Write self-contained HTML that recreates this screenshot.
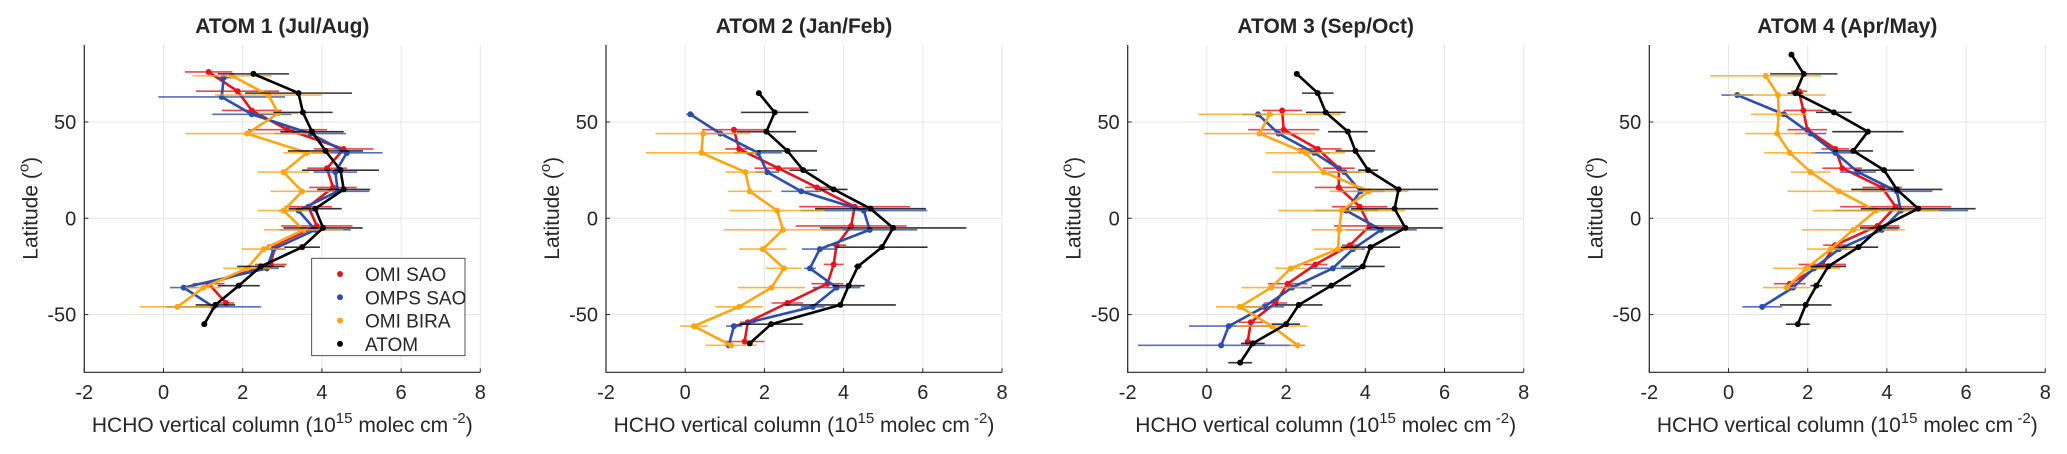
<!DOCTYPE html>
<html><head><meta charset="utf-8"><style>
html,body{margin:0;padding:0;background:#fff}
svg{display:block}
text{font-family:"Liberation Sans",sans-serif;fill:#262626}
</style></head><body>
<svg id="chart" width="2067" height="454" viewBox="0 0 2067 454"></svg>
<script>
const seriesNames = ["OMI SAO","OMPS SAO","OMI BIRA","ATOM"];
const seriesColors = ["#e8141c","#2a4ead","#ffa412","#000000"];
const panelTitles = ["ATOM 1 (Jul/Aug)","ATOM 2 (Jan/Feb)","ATOM 3 (Sep/Oct)","ATOM 4 (Apr/May)"];
const xTicks = [-2,0,2,4,6,8];
const yTicks = [-50,0,50];

// Panel 1
const p1_omi_lat = [76,66,56,46,36,26,16,6,-4,-14,-24,-34,-44];
const p1_omi_val = [1.14,1.87,2.23,3.13,4.55,4.13,4.28,3.66,3.87,2.82,2.71,1.14,1.58];
const p1_omi_err = [0.6,1.05,0.75,1.0,0.75,0.5,0.6,0.6,0.9,0.2,0.4,0.4,0.2];
const p1_omps_lat = [73,63,54,44,34,24,14,4,-6,-16,-26,-36,-46];
const p1_omps_val = [1.52,1.47,2.23,3.71,4.63,4.34,4.4,3.41,3.83,2.78,2.61,0.51,1.26];
const p1_omps_err = [0.2,1.6,1.0,0.9,0.9,0.55,0.8,0.5,0.9,0.3,0.3,0.35,1.2];
const p1_bira_lat = [74,64,54.5,44,34,24,14,4,-6,-16,-26,-36,-46];
const p1_bira_val = [1.73,2.65,2.9,2.11,3.62,3.03,3.5,3.03,3.54,2.53,2.11,1.01,0.35];
const p1_bira_err = [1.0,1.35,0.5,1.55,0.6,0.65,0.8,0.65,1.0,0.55,0.6,0.45,0.95];
const p1_atom_lat = [75,65,55,45,35,25,15,5,-5,-15,-25,-35,-45,-55];
const p1_atom_val = [2.27,3.41,3.52,3.75,4.09,4.47,4.55,3.83,4.03,3.5,2.46,1.9,1.31,1.03];
const p1_atom_err = [0.9,1.35,0.75,0.8,0.95,0.97,0.67,0.67,1.0,0.45,0.6,0.53,0.5,0.05];
// Panel 2
const p2_omi_lat = [46,36,26,16,6,-4,-14,-24,-34,-44,-54,-64];
const p2_omi_val = [1.23,1.36,2.35,3.33,4.28,4.19,3.82,3.75,3.59,2.58,1.58,1.5];
const p2_omi_err = [0.8,0.35,0.6,0.3,1.4,1.4,0.25,0.25,0.4,0.4,0.2,0.5];
const p2_omps_lat = [54,44,34,24,14,4,-6,-16,-26,-36,-46,-56,-66];
const p2_omps_val = [0.13,0.89,1.84,2.07,2.93,4.51,4.66,3.4,3.15,3.82,3.22,1.23,1.1];
const p2_omps_err = [0.1,0.4,0.6,0.3,0.5,1.6,1.2,0.45,0.15,0.6,0.3,0.2,0.1];
const p2_bira_lat = [44,34,24,14,4,-6,-16,-26,-36,-46,-56,-66];
const p2_bira_val = [0.45,0.41,1.52,1.63,2.32,2.47,1.96,2.49,2.18,1.36,0.22,1.16];
const p2_bira_err = [1.2,1.4,0.5,0.55,1.2,1.5,0.6,0.45,0.85,0.6,0.35,0.65];
const p2_atom_lat = [65,55,45,35,25,15,5,-5,-15,-25,-35,-45,-55,-65];
const p2_atom_val = [1.86,2.26,2.05,2.58,2.98,3.75,4.68,5.25,4.97,4.36,4.13,3.92,2.17,1.63];
const p2_atom_err = [0.05,0.85,0.75,0.75,0.35,0.35,1.4,1.85,1.15,0.1,0.4,1.4,0.8,0.05];
// Panel 3
const p3_omi_lat = [56,46,36,26,16,6,-4,-14,-24,-34,-44,-54,-64];
const p3_omi_val = [1.9,1.94,2.8,3.33,3.33,3.86,4.11,3.61,2.74,2.04,1.73,1.11,1.03];
const p3_omi_err = [0.5,0.9,0.6,0.4,0.6,0.7,0.9,0.2,0.3,0.5,0.3,0.3,0.05];
const p3_omps_lat = [54,44,34,24,14,4,-6,-16,-26,-36,-46,-56,-66];
const p3_omps_val = [1.29,1.81,2.71,3.47,3.88,3.52,4.4,3.69,3.18,2.15,1.45,0.55,0.36];
const p3_omps_err = [0.4,0.5,0.4,0.4,0.6,0.8,0.9,0.3,0.6,0.5,0.5,1.0,2.1];
const p3_bira_lat = [54,44,34,24,14,4,-6,-16,-26,-36,-46,-56,-66];
const p3_bira_val = [1.58,1.33,2.49,2.95,4.09,3.4,3.34,3.31,2.12,1.62,0.83,1.64,2.29];
const p3_bira_err = [1.8,1.4,1.0,1.3,1.0,1.6,0.7,0.6,0.4,0.75,0.6,0.9,0.2];
const p3_atom_lat = [75,65,55,45,35,25,15,5,-5,-15,-25,-35,-45,-55,-65,-75];
const p3_atom_val = [2.27,2.8,3.0,3.56,3.75,4.07,4.84,4.74,5.01,4.13,3.94,3.14,2.32,2.0,1.16,0.84];
const p3_atom_err = [0.05,0.4,0.5,0.5,0.5,0.25,1.0,1.1,0.95,0.75,0.55,0.5,0.6,0.35,0.3,0.3];
// Panel 4
const p4_omi_lat = [66,56,46,36,26,16,6,-4,-14,-24,-34];
const p4_omi_val = [1.78,1.89,1.99,2.7,2.87,3.88,4.22,3.76,2.69,2.37,1.55];
const p4_omi_err = [0.2,0.5,0.5,0.35,0.5,0.5,1.4,0.55,0.3,0.6,0.4];
const p4_omps_lat = [64,54,44,34,24,14,4,-6,-16,-26,-36,-46];
const p4_omps_val = [0.22,1.4,2.07,2.7,3.27,4.25,4.35,3.87,2.79,2.16,1.63,0.85];
const p4_omps_err = [0.4,0.1,0.4,0.6,0.45,0.9,1.7,0.4,0.2,0.3,0.1,0.5];
const p4_bira_lat = [74,64,54,44,34,24,14,4,-6,-16,-26,-36];
const p4_bira_val = [0.94,1.25,1.27,1.23,1.55,2.07,2.79,3.72,3.15,2.58,1.97,1.47];
const p4_bira_err = [1.4,1.2,0.7,0.8,0.65,0.5,1.3,1.6,1.3,0.6,0.85,0.6];
const p4_atom_lat = [85,75,65,55,45,35,25,15,5,-5,-15,-25,-35,-45,-55];
const p4_atom_val = [1.59,1.9,1.69,2.66,3.52,3.15,3.93,4.25,4.79,3.82,3.28,2.52,2.22,1.95,1.75];
const p4_atom_err = [0.05,0.85,0.2,0.45,0.9,0.5,0.75,1.15,1.45,0.5,0.5,0.45,0.15,0.65,0.3];

const panels = [
 [[p1_omi_lat,p1_omi_val,p1_omi_err],[p1_omps_lat,p1_omps_val,p1_omps_err],[p1_bira_lat,p1_bira_val,p1_bira_err],[p1_atom_lat,p1_atom_val,p1_atom_err]],
 [[p2_omi_lat,p2_omi_val,p2_omi_err],[p2_omps_lat,p2_omps_val,p2_omps_err],[p2_bira_lat,p2_bira_val,p2_bira_err],[p2_atom_lat,p2_atom_val,p2_atom_err]],
 [[p3_omi_lat,p3_omi_val,p3_omi_err],[p3_omps_lat,p3_omps_val,p3_omps_err],[p3_bira_lat,p3_bira_val,p3_bira_err],[p3_atom_lat,p3_atom_val,p3_atom_err]],
 [[p4_omi_lat,p4_omi_val,p4_omi_err],[p4_omps_lat,p4_omps_val,p4_omps_err],[p4_bira_lat,p4_bira_val,p4_bira_err],[p4_atom_lat,p4_atom_val,p4_atom_err]]
];

const NS="http://www.w3.org/2000/svg";
const svg=document.getElementById('chart');
function mk(tag,attrs,parent){const e=document.createElementNS(NS,tag);for(const k in attrs)e.setAttribute(k,attrs[k]);(parent||svg).appendChild(e);return e;}
const lefts=[84.3,606,1127.7,1649.3];
const PW=396, TOP=45, BOT=372.3, XMIN=-2, XMAX=8, YMIN=-80, YMAX=90;

panels.forEach((pd,pi)=>{
  const L=lefts[pi];
  const xs=v=>L+(v-XMIN)/(XMAX-XMIN)*PW;
  const ys=v=>BOT-(v-YMIN)/(YMAX-YMIN)*(BOT-TOP);
  const g=mk('g',{});
  
  
  xTicks.forEach(t=>{const l=mk('line',{x1:xs(t),x2:xs(t),y1:TOP,y2:BOT,stroke:'#e6e6e6','stroke-width':1},g);
    });
  yTicks.forEach(t=>{const l=mk('line',{x1:L,x2:L+PW,y1:ys(t),y2:ys(t),stroke:'#e6e6e6','stroke-width':1},g);
    });
  const ax=mk('path',{d:`M${L},${TOP}V${BOT}H${L+PW}`,fill:'none',stroke:'#262626','stroke-width':1.2},g);
  
  xTicks.forEach(t=>{
    mk('line',{x1:xs(t),x2:xs(t),y1:BOT,y2:BOT-4,stroke:'#262626'},g);
    const tx=mk('text',{x:xs(t),y:399,'text-anchor':'middle','font-size':20},g);tx.textContent=t;
    
  });
  yTicks.forEach(t=>{
    mk('line',{x1:L,x2:L+4,y1:ys(t),y2:ys(t),stroke:'#262626'},g);
    const tx=mk('text',{x:L-8,y:ys(t)+7,'text-anchor':'end','font-size':20},g);tx.textContent=t;
    
  });
  const title=mk('text',{x:L+PW/2,y:33,'text-anchor':'middle','font-size':21,'font-weight':'bold',fill:'#000'},g);
  title.textContent=panelTitles[pi];
  
  const xl=mk('text',{x:L+PW/2,y:432,'text-anchor':'middle','font-size':21},g);
  xl.innerHTML='HCHO vertical column (10<tspan dy="-9" font-size="15">15</tspan><tspan dy="9"> molec cm</tspan><tspan dy="-9" font-size="15"> -2</tspan><tspan dy="9">)</tspan>';
  
  const yl=mk('text',{x:0,y:0,'text-anchor':'middle','font-size':21,transform:`translate(${L-47},${ys(0)-10}) rotate(-90)`},g);
  yl.innerHTML='Latitude (<tspan dy="-9" font-size="15">o</tspan><tspan dy="9">)</tspan>';
  
  pd.forEach((s,si)=>{
    const [lat,val,err]=s;const c=seriesColors[si];
    const sg=mk('g',{},g);
    
    
    lat.forEach((la,i)=>{
      const e=mk('line',{x1:xs(val[i]-err[i]),x2:xs(val[i]+err[i]),y1:ys(la),y2:ys(la),stroke:c,'stroke-width':1.6,'stroke-opacity':0.8},sg);
      
    });
    const pts=lat.map((la,i)=>xs(val[i]).toFixed(1)+','+ys(la).toFixed(1)).join(' ');
    const pl=mk('polyline',{points:pts,fill:'none',stroke:c,'stroke-width':2.6,'stroke-linejoin':'round'},sg);
    
    lat.forEach((la,i)=>{
      const p=mk('circle',{cx:xs(val[i]),cy:ys(la),r:3,fill:c},sg);
      
    });
  });
});
const lg=mk('g',{});


mk('rect',{x:311.7,y:258.3,width:153.3,height:97.4,fill:'#fff',stroke:'#262626','stroke-width':0.8},lg);
seriesNames.forEach((n,i)=>{
  const y=274+i*23.3;
  const it=mk('g',{},lg);
  
  
  mk('circle',{cx:340,cy:y,r:3,fill:seriesColors[i]},it);
  const t=mk('text',{x:365,y:y+7,'font-size':19},it);t.textContent=n;
});
</script>
</body></html>
